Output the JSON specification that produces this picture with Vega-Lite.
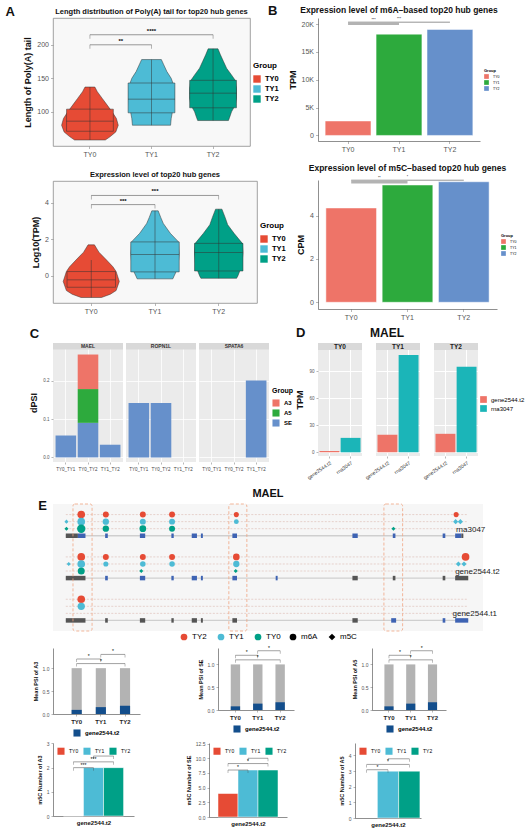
{
"$schema":"https://vega.github.io/schema/vega-lite/v6.json",
"background":"white",
"padding":{"left":5,"top":4,"right":2,"bottom":2},
"spacing":6,
"columns":1,
"align":"none",
"config":{
 "font":"Liberation Sans",
 "view":{"stroke":null},
 "title":{"fontSize":8,"fontWeight":"bold","color":"#111111","offset":3},
 "axis":{"grid":false,"labelColor":"#555555","labelFontSize":7,"titleFontSize":9,"titleFontWeight":"bold","titleColor":"#111111","tickColor":"#888888","tickSize":2.5,"tickWidth":0.6,"domainColor":"#444444","domainWidth":0.6,"labelPadding":2,"titlePadding":4,"labelOverlap":false},
 "legend":{"titleFontSize":8,"labelFontSize":8,"labelFontWeight":"bold","titleFontWeight":"bold","symbolType":"square","symbolStrokeWidth":0,"layout":{"right":{"anchor":"middle"},"bottom":{"anchor":"middle","direction":"horizontal"}}}
},
"datasets":{
 "polyA_violin":[
  {"Group":"TY0","v":137,"l":0.92,"r":1.08},{"Group":"TY0","v":130,"l":0.88,"r":1.12},{"Group":"TY0","v":120,"l":0.80,"r":1.20},{"Group":"TY0","v":110,"l":0.72,"r":1.28},{"Group":"TY0","v":100,"l":0.64,"r":1.36},{"Group":"TY0","v":90,"l":0.57,"r":1.43},{"Group":"TY0","v":80,"l":0.54,"r":1.46},{"Group":"TY0","v":70,"l":0.58,"r":1.42},{"Group":"TY0","v":63,"l":0.67,"r":1.33},{"Group":"TY0","v":58,"l":0.75,"r":1.25},
  {"Group":"TY1","v":178,"l":1.84,"r":2.16},{"Group":"TY1","v":170,"l":1.80,"r":2.20},{"Group":"TY1","v":160,"l":1.75,"r":2.25},{"Group":"TY1","v":150,"l":1.68,"r":2.32},{"Group":"TY1","v":140,"l":1.64,"r":2.36},{"Group":"TY1","v":130,"l":1.63,"r":2.37},{"Group":"TY1","v":120,"l":1.63,"r":2.37},{"Group":"TY1","v":110,"l":1.64,"r":2.36},{"Group":"TY1","v":100,"l":1.66,"r":2.34},{"Group":"TY1","v":90,"l":1.68,"r":2.32},{"Group":"TY1","v":80,"l":1.69,"r":2.31},
  {"Group":"TY2","v":194,"l":2.92,"r":3.08},{"Group":"TY2","v":185,"l":2.88,"r":3.12},{"Group":"TY2","v":175,"l":2.83,"r":3.17},{"Group":"TY2","v":165,"l":2.78,"r":3.22},{"Group":"TY2","v":155,"l":2.70,"r":3.30},{"Group":"TY2","v":147,"l":2.64,"r":3.36},{"Group":"TY2","v":135,"l":2.62,"r":3.38},{"Group":"TY2","v":120,"l":2.62,"r":3.38},{"Group":"TY2","v":110,"l":2.64,"r":3.36},{"Group":"TY2","v":100,"l":2.70,"r":3.30},{"Group":"TY2","v":92,"l":2.73,"r":3.27},{"Group":"TY2","v":87,"l":2.75,"r":3.25}
 ],
 "polyA_box":[
  {"Group":"TY0","lo":58,"q1":71,"med":86,"q3":104,"hi":137},
  {"Group":"TY1","lo":80,"q1":98.5,"med":119,"q3":143,"hi":178},
  {"Group":"TY2","lo":87,"q1":106,"med":128,"q3":147,"hi":194}
 ],
 "expr_violin":[
  {"Group":"TY0","v":1.7,"l":0.95,"r":1.05},{"Group":"TY0","v":1.3,"l":0.88,"r":1.12},{"Group":"TY0","v":0.87,"l":0.76,"r":1.24},{"Group":"TY0","v":0.5,"l":0.66,"r":1.34},{"Group":"TY0","v":0.24,"l":0.61,"r":1.39},{"Group":"TY0","v":-0.3,"l":0.56,"r":1.44},{"Group":"TY0","v":-0.8,"l":0.61,"r":1.39},{"Group":"TY0","v":-1.0,"l":0.70,"r":1.30},{"Group":"TY0","v":-1.18,"l":0.84,"r":1.16},
  {"Group":"TY1","v":3.56,"l":1.95,"r":2.05},{"Group":"TY1","v":3.2,"l":1.91,"r":2.09},{"Group":"TY1","v":2.87,"l":1.87,"r":2.13},{"Group":"TY1","v":2.33,"l":1.76,"r":2.24},{"Group":"TY1","v":1.86,"l":1.63,"r":2.37},{"Group":"TY1","v":1.2,"l":1.62,"r":2.38},{"Group":"TY1","v":0.5,"l":1.64,"r":2.36},{"Group":"TY1","v":0.22,"l":1.67,"r":2.33},{"Group":"TY1","v":0,"l":1.70,"r":2.30},{"Group":"TY1","v":-0.16,"l":1.72,"r":2.28},
  {"Group":"TY2","v":3.65,"l":2.95,"r":3.05},{"Group":"TY2","v":3.2,"l":2.90,"r":3.10},{"Group":"TY2","v":2.8,"l":2.86,"r":3.14},{"Group":"TY2","v":2.33,"l":2.76,"r":3.24},{"Group":"TY2","v":1.78,"l":2.63,"r":3.37},{"Group":"TY2","v":1.27,"l":2.62,"r":3.38},{"Group":"TY2","v":0.5,"l":2.64,"r":3.36},{"Group":"TY2","v":0.27,"l":2.67,"r":3.33},{"Group":"TY2","v":0,"l":2.70,"r":3.30},{"Group":"TY2","v":-0.13,"l":2.72,"r":3.28}
 ],
 "expr_box":[
  {"Group":"TY0","lo":-1.18,"q1":-0.62,"med":-0.22,"q3":0.24,"hi":0.87},
  {"Group":"TY1","lo":-0.16,"q1":0.22,"med":1.18,"q3":1.86,"hi":3.56},
  {"Group":"TY2","lo":-0.13,"q1":0.27,"med":1.27,"q3":1.78,"hi":3.65}
 ],
 "sig":[
  {"panel":"A1","g1":"TY0","g2":"TY1","mid":"TY0","span":1,"y":200,"label":"**"},
  {"panel":"A1","g1":"TY0","g2":"TY2","mid":"TY1","span":2,"y":215,"label":"****"},
  {"panel":"A2","g1":"TY0","g2":"TY1","mid":"TY0","span":1,"y":3.9,"label":"***"},
  {"panel":"A2","g1":"TY0","g2":"TY2","mid":"TY1","span":2,"y":4.4,"label":"***"},
  {"panel":"B1","g1":"TY0","g2":"TY1","mid":"TY0","span":1,"y":20100,"label":"***"},
  {"panel":"B1","g1":"TY0","g2":"TY2","mid":"TY1","span":2,"y":20350,"label":"***"},
  {"panel":"B2","g1":"TY0","g2":"TY1","mid":"TY0","span":1,"y":5.55,"label":"**"},
  {"panel":"B2","g1":"TY0","g2":"TY2","mid":"TY1","span":2,"y":5.63,"label":"*"},
  {"panel":"M_A3","g1":"TY0","g2":"TY1","mid":"TY0","span":1,"y":1.2,"label":"*"},
  {"panel":"M_A3","g1":"TY1","g2":"TY2","mid":"TY1","span":1,"y":1.3,"label":"*"},
  {"panel":"M_A3","g1":"TY0","g2":"TY2","mid":"TY1","span":2,"y":1.1,"label":"*"},
  {"panel":"M_SE","g1":"TY0","g2":"TY1","mid":"TY0","span":1,"y":1.2,"label":"*"},
  {"panel":"M_SE","g1":"TY1","g2":"TY2","mid":"TY1","span":1,"y":1.3,"label":"*"},
  {"panel":"M_SE","g1":"TY0","g2":"TY2","mid":"TY1","span":2,"y":1.1,"label":"*"},
  {"panel":"M_A5","g1":"TY0","g2":"TY1","mid":"TY0","span":1,"y":1.2,"label":"*"},
  {"panel":"M_A5","g1":"TY1","g2":"TY2","mid":"TY1","span":1,"y":1.3,"label":"*"},
  {"panel":"M_A5","g1":"TY0","g2":"TY2","mid":"TY1","span":2,"y":1.1,"label":"*"},
  {"panel":"N_A3","g1":"TY0","g2":"TY1","mid":"TY0","span":1,"y":2.0,"label":"***"},
  {"panel":"N_A3","g1":"TY0","g2":"TY2","mid":"TY1","span":2,"y":2.24,"label":"***"},
  {"panel":"N_A3","g1":"TY1","g2":"TY2","mid":"TY1","span":1,"y":2.48,"label":""},
  {"panel":"N_SE","g1":"TY0","g2":"TY1","mid":"TY0","span":1,"y":8.0,"label":"*"},
  {"panel":"N_SE","g1":"TY0","g2":"TY2","mid":"TY1","span":2,"y":9.1,"label":"*"},
  {"panel":"N_SE","g1":"TY1","g2":"TY2","mid":"TY1","span":1,"y":10.0,"label":""},
  {"panel":"N_A5","g1":"TY0","g2":"TY1","mid":"TY0","span":1,"y":3.09,"label":"*"},
  {"panel":"N_A5","g1":"TY0","g2":"TY2","mid":"TY1","span":2,"y":3.43,"label":"*"},
  {"panel":"N_A5","g1":"TY1","g2":"TY2","mid":"TY1","span":1,"y":3.79,"label":""}
 ],
 "strips":[{"label":"MAEL"},{"label":"ROPN1L"},{"label":"SPATA6"},{"label":"TY0"},{"label":"TY1"},{"label":"TY2"}],
 "letters":[{"panel":"E"}],
 "m6A":[{"Group":"TY0","TPM":2600},{"Group":"TY1","TPM":18200},{"Group":"TY2","TPM":19050}],
 "m5C":[{"Group":"TY0","CPM":4.35},{"Group":"TY1","CPM":5.41},{"Group":"TY2","CPM":5.56}],
 "dpsi":[
  {"Gene":"MAEL","Comparison":"TY0_TY1","Group":"SE","dPSI":0.057},
  {"Gene":"MAEL","Comparison":"TY0_TY2","Group":"SE","dPSI":0.09},
  {"Gene":"MAEL","Comparison":"TY0_TY2","Group":"A5","dPSI":0.088},
  {"Gene":"MAEL","Comparison":"TY0_TY2","Group":"A3","dPSI":0.09},
  {"Gene":"MAEL","Comparison":"TY1_TY2","Group":"SE","dPSI":0.033},
  {"Gene":"ROPN1L","Comparison":"TY0_TY1","Group":"SE","dPSI":0.142},
  {"Gene":"ROPN1L","Comparison":"TY0_TY2","Group":"SE","dPSI":0.142},
  {"Gene":"SPATA6","Comparison":"TY1_TY2","Group":"SE","dPSI":0.2}
 ],
 "mael_tpm":[
  {"Group":"TY0","Transcript":"gene2544.t2","TPM":1.5},{"Group":"TY0","Transcript":"rna3047","TPM":16},
  {"Group":"TY1","Transcript":"gene2544.t2","TPM":19.5},{"Group":"TY1","Transcript":"rna3047","TPM":108},
  {"Group":"TY2","Transcript":"gene2544.t2","TPM":20.5},{"Group":"TY2","Transcript":"rna3047","TPM":95}
 ],
 "ebox":[{"start":2030,"end":3970},{"start":17870,"end":19700},{"start":33630,"end":35530}],
 "eline":[
  {"row":"rna3047 TY2","start":1300,"end":42200,"kind":"site"},{"row":"rna3047 TY1","start":1300,"end":42200,"kind":"site"},{"row":"rna3047 TY0","start":1300,"end":42200,"kind":"site"},
  {"row":"gene2544.t2 TY2","start":1300,"end":42200,"kind":"site"},{"row":"gene2544.t2 TY1","start":1300,"end":42200,"kind":"site"},{"row":"gene2544.t2 TY0","start":1300,"end":42200,"kind":"site"},
  {"row":"gene2544.t1 TY2","start":1300,"end":42200,"kind":"site"},{"row":"gene2544.t1 TY1","start":1300,"end":42200,"kind":"site"},{"row":"gene2544.t1 TY0","start":1300,"end":42200,"kind":"site"},
  {"row":"rna3047","start":1300,"end":41700,"kind":"intron"},{"row":"gene2544.t2","start":1300,"end":42200,"kind":"intron"},{"row":"gene2544.t1","start":1300,"end":42200,"kind":"intron"}
 ],
 "exon":[
  {"row":"rna3047","start":1300,"end":2530,"type":"UTR"},{"row":"rna3047","start":2530,"end":3300,"type":"CDS"},{"row":"rna3047","start":5300,"end":5570,"type":"CDS"},{"row":"rna3047","start":8830,"end":9370,"type":"CDS"},{"row":"rna3047","start":12030,"end":12270,"type":"CDS"},{"row":"rna3047","start":14100,"end":14630,"type":"CDS"},{"row":"rna3047","start":15030,"end":15230,"type":"CDS"},{"row":"rna3047","start":18230,"end":18700,"type":"CDS"},{"row":"rna3047","start":30430,"end":30970,"type":"CDS"},{"row":"rna3047","start":34530,"end":34800,"type":"CDS"},{"row":"rna3047","start":39600,"end":39870,"type":"CDS"},{"row":"rna3047","start":40870,"end":41500,"type":"CDS"},{"row":"rna3047","start":41500,"end":41700,"type":"UTR"},
  {"row":"gene2544.t2","start":1300,"end":3300,"type":"UTR"},{"row":"gene2544.t2","start":5300,"end":5570,"type":"CDS"},{"row":"gene2544.t2","start":8830,"end":9370,"type":"CDS"},{"row":"gene2544.t2","start":12030,"end":12270,"type":"CDS"},{"row":"gene2544.t2","start":14100,"end":14630,"type":"CDS"},{"row":"gene2544.t2","start":15030,"end":15230,"type":"CDS"},{"row":"gene2544.t2","start":18230,"end":18700,"type":"CDS"},{"row":"gene2544.t2","start":22630,"end":22830,"type":"CDS"},{"row":"gene2544.t2","start":30430,"end":30970,"type":"UTR"},{"row":"gene2544.t2","start":34530,"end":34800,"type":"UTR"},{"row":"gene2544.t2","start":39600,"end":39870,"type":"UTR"},{"row":"gene2544.t2","start":40870,"end":42200,"type":"UTR"},
  {"row":"gene2544.t1","start":1300,"end":3300,"type":"UTR"},{"row":"gene2544.t1","start":5300,"end":5570,"type":"UTR"},{"row":"gene2544.t1","start":8830,"end":9370,"type":"UTR"},{"row":"gene2544.t1","start":12030,"end":12270,"type":"UTR"},{"row":"gene2544.t1","start":14100,"end":14630,"type":"UTR"},{"row":"gene2544.t1","start":15030,"end":15230,"type":"UTR"},{"row":"gene2544.t1","start":18230,"end":18700,"type":"UTR"},{"row":"gene2544.t1","start":30430,"end":30970,"type":"UTR"},{"row":"gene2544.t1","start":34370,"end":34870,"type":"CDS"},{"row":"gene2544.t1","start":39600,"end":39870,"type":"CDS"},{"row":"gene2544.t1","start":40870,"end":42200,"type":"CDS"}
 ],
 "sites":[
  {"row":"rna3047 TY2","pos":2870,"grp":"TY2","mod":"m6A","n":3},{"row":"rna3047 TY2","pos":5370,"grp":"TY2","mod":"m6A","n":2},{"row":"rna3047 TY2","pos":9130,"grp":"TY2","mod":"m6A","n":2},{"row":"rna3047 TY2","pos":12100,"grp":"TY2","mod":"m6A","n":2},{"row":"rna3047 TY2","pos":18630,"grp":"TY2","mod":"m6A","n":1.6},{"row":"rna3047 TY2","pos":40970,"grp":"TY2","mod":"m6A","n":1.6},
  {"row":"rna3047 TY1","pos":1370,"grp":"TY1","mod":"m5C","n":1.2},{"row":"rna3047 TY1","pos":2870,"grp":"TY1","mod":"m6A","n":3},{"row":"rna3047 TY1","pos":5370,"grp":"TY1","mod":"m6A","n":2.2},{"row":"rna3047 TY1","pos":9130,"grp":"TY1","mod":"m6A","n":2},{"row":"rna3047 TY1","pos":12100,"grp":"TY1","mod":"m6A","n":2},{"row":"rna3047 TY1","pos":18630,"grp":"TY1","mod":"m6A","n":1.5},{"row":"rna3047 TY1","pos":40920,"grp":"TY1","mod":"m5C","n":1.6},{"row":"rna3047 TY1","pos":41400,"grp":"TY1","mod":"m5C","n":1.6},
  {"row":"rna3047 TY0","pos":1370,"grp":"TY0","mod":"m5C","n":1.2},{"row":"rna3047 TY0","pos":2870,"grp":"TY0","mod":"m6A","n":3.5},{"row":"rna3047 TY0","pos":5370,"grp":"TY0","mod":"m6A","n":2.2},{"row":"rna3047 TY0","pos":9130,"grp":"TY0","mod":"m6A","n":2.4},{"row":"rna3047 TY0","pos":12100,"grp":"TY0","mod":"m6A","n":2},{"row":"rna3047 TY0","pos":34600,"grp":"TY0","mod":"m5C","n":1.2},
  {"row":"gene2544.t2 TY2","pos":2870,"grp":"TY2","mod":"m6A","n":3},{"row":"gene2544.t2 TY2","pos":5370,"grp":"TY2","mod":"m6A","n":2},{"row":"gene2544.t2 TY2","pos":9130,"grp":"TY2","mod":"m6A","n":2},{"row":"gene2544.t2 TY2","pos":12100,"grp":"TY2","mod":"m6A","n":2},{"row":"gene2544.t2 TY2","pos":18630,"grp":"TY2","mod":"m6A","n":2.4},{"row":"gene2544.t2 TY2","pos":41930,"grp":"TY2","mod":"m6A","n":3},
  {"row":"gene2544.t2 TY1","pos":1600,"grp":"TY1","mod":"m5C","n":1.2},{"row":"gene2544.t2 TY1","pos":2870,"grp":"TY1","mod":"m6A","n":3},{"row":"gene2544.t2 TY1","pos":5370,"grp":"TY1","mod":"m6A","n":1.6},{"row":"gene2544.t2 TY1","pos":9130,"grp":"TY1","mod":"m6A","n":1.8},{"row":"gene2544.t2 TY1","pos":12100,"grp":"TY1","mod":"m6A","n":1.8},{"row":"gene2544.t2 TY1","pos":18630,"grp":"TY1","mod":"m6A","n":2.2},{"row":"gene2544.t2 TY1","pos":41200,"grp":"TY1","mod":"m5C","n":1.6},{"row":"gene2544.t2 TY1","pos":41770,"grp":"TY1","mod":"m5C","n":1.6},
  {"row":"gene2544.t2 TY0","pos":2870,"grp":"TY0","mod":"m6A","n":2.6},{"row":"gene2544.t2 TY0","pos":8970,"grp":"TY0","mod":"m5C","n":1.2},{"row":"gene2544.t2 TY0","pos":18570,"grp":"TY0","mod":"m5C","n":1.2},
  {"row":"gene2544.t1 TY2","pos":2870,"grp":"TY2","mod":"m6A","n":3},
  {"row":"gene2544.t1 TY1","pos":2870,"grp":"TY1","mod":"m6A","n":2.8}
 ],
 "elabel":[{"row":"rna3047","pos":40950},{"row":"gene2544.t2","pos":40870},{"row":"gene2544.t1","pos":40600}],
 "psi":[
  {"Event":"A3","Group":"TY0","Transcript":"gene2544.t2","PSI":0.09},{"Event":"A3","Group":"TY1","Transcript":"gene2544.t2","PSI":0.15},{"Event":"A3","Group":"TY2","Transcript":"gene2544.t2","PSI":0.18},
  {"Event":"SE","Group":"TY0","Transcript":"gene2544.t2","PSI":0.08},{"Event":"SE","Group":"TY1","Transcript":"gene2544.t2","PSI":0.14},{"Event":"SE","Group":"TY2","Transcript":"gene2544.t2","PSI":0.17},
  {"Event":"A5","Group":"TY0","Transcript":"gene2544.t2","PSI":0.08},{"Event":"A5","Group":"TY1","Transcript":"gene2544.t2","PSI":0.14},{"Event":"A5","Group":"TY2","Transcript":"gene2544.t2","PSI":0.17}
 ],
 "m5cnum":[
  {"Event":"A3","Group":"TY0","Number":0},{"Event":"A3","Group":"TY1","Number":2},{"Event":"A3","Group":"TY2","Number":2},
  {"Event":"SE","Group":"TY0","Number":4},{"Event":"SE","Group":"TY1","Number":8},{"Event":"SE","Group":"TY2","Number":8},
  {"Event":"A5","Group":"TY1","Number":3},{"Event":"A5","Group":"TY2","Number":3}
 ]
},
"resolve":{"scale":{"color":"independent","shape":"independent","size":"independent"}},
"concat":[
 {"hconcat":[
  {"title":{"text":"A","anchor":"start","fontSize":13,"offset":-12,"dx":-18},
   "spacing":12,
   "resolve":{"scale":{"color":"independent"}},
   "vconcat":[
    {"width":197,"height":128,
     "title":{"text":"Length distribution of Poly(A) tail for top20 hub genes","fontSize":7.5},
     "view":{"fill":"#f8f8f8","stroke":"#8c8c8c","strokeWidth":0.8},
     "layer":[
      {"data":{"name":"polyA_violin"},
       "mark":{"type":"area","orient":"horizontal","stroke":"#333333","strokeWidth":0.5},
       "encoding":{
        "y":{"field":"v","type":"quantitative","scale":{"domain":[49,240],"nice":false,"zero":false},"axis":{"values":[100,150,200],"title":"Length of Poly(A) tail","domain":false}},
        "x":{"field":"l","type":"quantitative","stack":null,"scale":{"domain":[0.4,3.6],"nice":false,"zero":false},"axis":null},
        "x2":{"field":"r"},
        "color":{"field":"Group","type":"nominal","scale":{"domain":["TY0","TY1","TY2"],"range":["#E64B35","#4DBBD5","#00A087"]},"legend":{"title":"Group","symbolSize":55,"labelFontSize":7.5,"offset":3}}
       }},
      {"data":{"name":"polyA_box"},
       "encoding":{"x":{"field":"Group","type":"nominal","title":null,"scale":{"domain":["TY0","TY1","TY2"],"paddingInner":0,"paddingOuter":0.1},"axis":{"title":null,"labelAngle":0,"domain":false}}},
       "layer":[
        {"mark":{"type":"bar","width":{"band":0.76},"stroke":"#333333","strokeWidth":0.5},
         "encoding":{"y":{"field":"q1","type":"quantitative","title":"Length of Poly(A) tail"},"y2":{"field":"q3"},"color":{"field":"Group","type":"nominal","scale":{"domain":["TY0","TY1","TY2"],"range":["#E64B35","#4DBBD5","#00A087"]},"legend":{"title":"Group","symbolSize":55,"labelFontSize":7.5,"offset":3}}}},
        {"mark":{"type":"rule","color":"#333333","strokeWidth":0.5},
         "encoding":{"y":{"field":"lo","type":"quantitative","title":"Length of Poly(A) tail"},"y2":{"field":"hi"}}},
        {"mark":{"type":"tick","orient":"horizontal","size":47,"thickness":0.8,"color":"#333333"},
         "encoding":{"y":{"field":"med","type":"quantitative","title":"Length of Poly(A) tail"}}},
        {"data":{"name":"sig"},"transform":[{"filter":"datum.panel == 'A1'"}],"mark":{"type":"rule","color":"#555555","strokeWidth":0.6},
         "encoding":{"x":{"field":"g1","type":"nominal","title":null},"x2":{"field":"g2"},"y":{"field":"y","type":"quantitative","title":"Length of Poly(A) tail"}}},
        {"data":{"name":"sig"},"transform":[{"filter":"datum.panel == 'A1'"},{"fold":["g1","g2"],"as":["end","gx"]}],"mark":{"type":"tick","orient":"vertical","size":4,"yOffset":2,"thickness":0.6,"color":"#555555"},
         "encoding":{"x":{"field":"gx","type":"nominal","title":null},"y":{"field":"y","type":"quantitative","title":"Length of Poly(A) tail"}}},
        {"data":{"name":"sig"},"transform":[{"filter":"datum.panel == 'A1' && datum.span == 1"}],"mark":{"type":"text","baseline":"bottom","dy":-1,"fontSize":6,"fontWeight":"bold"},
         "encoding":{"x":{"field":"mid","type":"nominal","bandPosition":1,"title":null},"y":{"field":"y","type":"quantitative","title":"Length of Poly(A) tail"},"text":{"field":"label"}}},
        {"data":{"name":"sig"},"transform":[{"filter":"datum.panel == 'A1' && datum.span == 2"}],"mark":{"type":"text","baseline":"bottom","dy":-1,"fontSize":6,"fontWeight":"bold"},
         "encoding":{"x":{"field":"mid","type":"nominal","title":null},"y":{"field":"y","type":"quantitative","title":"Length of Poly(A) tail"},"text":{"field":"label"}}}
       ]}
     ],
     "resolve":{"scale":{"x":"independent"}}
    },
    {"width":204,"height":122,
     "title":{"text":"Expression level of top20 hub genes","fontSize":7.5},
     "view":{"fill":"#f8f8f8","stroke":"#8c8c8c","strokeWidth":0.8},
     "layer":[
      {"data":{"name":"expr_violin"},
       "mark":{"type":"area","orient":"horizontal","stroke":"#333333","strokeWidth":0.5},
       "encoding":{
        "y":{"field":"v","type":"quantitative","scale":{"domain":[-1.48,5.19],"nice":false,"zero":false},"axis":{"values":[0,2,4],"title":"Log10(TPM)","domain":false}},
        "x":{"field":"l","type":"quantitative","stack":null,"scale":{"domain":[0.4,3.6],"nice":false,"zero":false},"axis":null},
        "x2":{"field":"r"},
        "color":{"field":"Group","type":"nominal","scale":{"domain":["TY0","TY1","TY2"],"range":["#E64B35","#4DBBD5","#00A087"]},"legend":{"title":"Group","symbolSize":55,"labelFontSize":7.5,"offset":3}}
       }},
      {"data":{"name":"expr_box"},
       "encoding":{"x":{"field":"Group","type":"nominal","title":null,"scale":{"domain":["TY0","TY1","TY2"],"paddingInner":0,"paddingOuter":0.1},"axis":{"title":null,"labelAngle":0,"domain":false}}},
       "layer":[
        {"mark":{"type":"bar","width":{"band":0.76},"stroke":"#333333","strokeWidth":0.5},
         "encoding":{"y":{"field":"q1","type":"quantitative","title":"Log10(TPM)"},"y2":{"field":"q3"},"color":{"field":"Group","type":"nominal","scale":{"domain":["TY0","TY1","TY2"],"range":["#E64B35","#4DBBD5","#00A087"]},"legend":{"title":"Group","symbolSize":55,"labelFontSize":7.5,"offset":3}}}},
        {"mark":{"type":"rule","color":"#333333","strokeWidth":0.5},
         "encoding":{"y":{"field":"lo","type":"quantitative","title":"Log10(TPM)"},"y2":{"field":"hi"}}},
        {"mark":{"type":"tick","orient":"horizontal","size":48,"thickness":0.8,"color":"#333333"},
         "encoding":{"y":{"field":"med","type":"quantitative","title":"Log10(TPM)"}}},
        {"data":{"name":"sig"},"transform":[{"filter":"datum.panel == 'A2'"}],"mark":{"type":"rule","color":"#555555","strokeWidth":0.6},
         "encoding":{"x":{"field":"g1","type":"nominal","title":null},"x2":{"field":"g2"},"y":{"field":"y","type":"quantitative","title":"Log10(TPM)"}}},
        {"data":{"name":"sig"},"transform":[{"filter":"datum.panel == 'A2'"},{"fold":["g1","g2"],"as":["end","gx"]}],"mark":{"type":"tick","orient":"vertical","size":4,"yOffset":2,"thickness":0.6,"color":"#555555"},
         "encoding":{"x":{"field":"gx","type":"nominal","title":null},"y":{"field":"y","type":"quantitative","title":"Log10(TPM)"}}},
        {"data":{"name":"sig"},"transform":[{"filter":"datum.panel == 'A2' && datum.span == 1"}],"mark":{"type":"text","baseline":"bottom","dy":-1,"fontSize":6,"fontWeight":"bold"},
         "encoding":{"x":{"field":"mid","type":"nominal","bandPosition":1,"title":null},"y":{"field":"y","type":"quantitative","title":"Log10(TPM)"},"text":{"field":"label"}}},
        {"data":{"name":"sig"},"transform":[{"filter":"datum.panel == 'A2' && datum.span == 2"}],"mark":{"type":"text","baseline":"bottom","dy":-1,"fontSize":6,"fontWeight":"bold"},
         "encoding":{"x":{"field":"mid","type":"nominal","title":null},"y":{"field":"y","type":"quantitative","title":"Log10(TPM)"},"text":{"field":"label"}}}
       ]}
     ],
     "resolve":{"scale":{"x":"independent"}}
    }
   ]},
  {"title":{"text":"B","anchor":"start","fontSize":13,"offset":-12,"dx":-20},
   "spacing":10,
   "resolve":{"scale":{"color":"independent"}},
   "vconcat":[
    {"width":162,"height":123,
     "title":{"text":"Expression level of m6A\u2013based top20 hub genes","fontSize":8.5},
     "encoding":{"x":{"field":"Group","type":"nominal","title":null,"scale":{"domain":["TY0","TY1","TY2"],"paddingInner":0,"paddingOuter":0.09},"axis":{"title":null,"labelAngle":0}}},
     "layer":[
      {"data":{"name":"m6A"},"mark":{"type":"bar","width":{"band":0.9},"stroke":"white","strokeWidth":0.5},
       "encoding":{"y":{"field":"TPM","type":"quantitative","scale":{"domain":[-1000,21100],"nice":false},"axis":{"values":[0,5000,10000,15000,20000],"labelExpr":"datum.value == 0 ? '0' : (datum.value/1000) + 'K'","title":"TPM"}},"y2":{"datum":0},
        "color":{"field":"Group","type":"nominal","scale":{"domain":["TY0","TY1","TY2"],"range":["#EE7468","#2DAA3D","#6690CB"]},"legend":{"title":"Group","titleFontSize":4,"labelFontSize":3.5,"labelFontWeight":"normal","symbolSize":22,"offset":4,"rowPadding":1,"titlePadding":1}}}},
      {"data":{"name":"sig"},"transform":[{"filter":"datum.panel == 'B1' && datum.span == 2"}],"mark":{"type":"rule","color":"#666666","strokeWidth":0.7},
       "encoding":{"x":{"field":"g1","type":"nominal","title":null},"x2":{"field":"g2"},"y":{"field":"y","type":"quantitative","axis":{"values":[0,5000,10000,15000,20000],"labelExpr":"datum.value == 0 ? '0' : (datum.value/1000) + 'K'","title":"TPM"}}}},
      {"data":{"name":"sig"},"transform":[{"filter":"datum.panel == 'B1' && datum.span == 1"}],"mark":{"type":"rule","color":"#b3b3b3","strokeWidth":3},
       "encoding":{"x":{"field":"g1","type":"nominal","title":null},"x2":{"field":"g2"},"y":{"field":"y","type":"quantitative","axis":{"values":[0,5000,10000,15000,20000],"labelExpr":"datum.value == 0 ? '0' : (datum.value/1000) + 'K'","title":"TPM"}}}},
      {"data":{"name":"sig"},"transform":[{"filter":"datum.panel == 'B1' && datum.span == 1"}],"mark":{"type":"text","baseline":"bottom","dy":-2,"fontSize":3.5},
       "encoding":{"x":{"field":"mid","type":"nominal","bandPosition":1,"title":null},"y":{"field":"y","type":"quantitative","axis":{"values":[0,5000,10000,15000,20000],"labelExpr":"datum.value == 0 ? '0' : (datum.value/1000) + 'K'","title":"TPM"}},"text":{"field":"label"}}},
      {"data":{"name":"sig"},"transform":[{"filter":"datum.panel == 'B1' && datum.span == 2"}],"mark":{"type":"text","baseline":"bottom","dy":-1,"fontSize":3.5},
       "encoding":{"x":{"field":"mid","type":"nominal","title":null},"y":{"field":"y","type":"quantitative","axis":{"values":[0,5000,10000,15000,20000],"labelExpr":"datum.value == 0 ? '0' : (datum.value/1000) + 'K'","title":"TPM"}},"text":{"field":"label"}}}
     ]},
    {"width":179,"height":129,
     "title":{"text":"Expression level of m5C\u2013based top20 hub genes","fontSize":8.5},
     "encoding":{"x":{"field":"Group","type":"nominal","title":null,"scale":{"domain":["TY0","TY1","TY2"],"paddingInner":0,"paddingOuter":0.09},"axis":{"title":null,"labelAngle":0}}},
     "layer":[
      {"data":{"name":"m5C"},"mark":{"type":"bar","width":{"band":0.9},"stroke":"white","strokeWidth":0.5},
       "encoding":{"y":{"field":"CPM","type":"quantitative","scale":{"domain":[-0.31,5.64],"nice":false},"axis":{"values":[0,2,4],"title":"CPM"}},"y2":{"datum":0},
        "color":{"field":"Group","type":"nominal","scale":{"domain":["TY0","TY1","TY2"],"range":["#EE7468","#2DAA3D","#6690CB"]},"legend":{"title":"Group","titleFontSize":4,"labelFontSize":3.5,"labelFontWeight":"normal","symbolSize":22,"offset":4,"rowPadding":1,"titlePadding":1}}}},
      {"data":{"name":"sig"},"transform":[{"filter":"datum.panel == 'B2' && datum.span == 2"}],"mark":{"type":"rule","color":"#666666","strokeWidth":0.7},
       "encoding":{"x":{"field":"g1","type":"nominal","title":null},"x2":{"field":"g2"},"y":{"field":"y","type":"quantitative","axis":{"values":[0,2,4],"title":"CPM"}}}},
      {"data":{"name":"sig"},"transform":[{"filter":"datum.panel == 'B2' && datum.span == 1"}],"mark":{"type":"rule","color":"#b3b3b3","strokeWidth":3},
       "encoding":{"x":{"field":"g1","type":"nominal","title":null},"x2":{"field":"g2"},"y":{"field":"y","type":"quantitative","axis":{"values":[0,2,4],"title":"CPM"}}}},
      {"data":{"name":"sig"},"transform":[{"filter":"datum.panel == 'B2' && datum.span == 1"}],"mark":{"type":"text","baseline":"bottom","dy":-2,"fontSize":3.5},
       "encoding":{"x":{"field":"mid","type":"nominal","bandPosition":1,"title":null},"y":{"field":"y","type":"quantitative","axis":{"values":[0,2,4],"title":"CPM"}},"text":{"field":"label"}}},
      {"data":{"name":"sig"},"transform":[{"filter":"datum.panel == 'B2' && datum.span == 2"}],"mark":{"type":"text","baseline":"bottom","dy":-1,"fontSize":3.5},
       "encoding":{"x":{"field":"mid","type":"nominal","title":null},"y":{"field":"y","type":"quantitative","axis":{"values":[0,2,4],"title":"CPM"}},"text":{"field":"label"}}}
     ]}
   ]}
 ],"spacing":-19,"resolve":{"scale":{"color":"independent"}}},
 {"hconcat":[
  {"title":{"text":"C","anchor":"start","fontSize":13,"offset":2},
   "spacing":3,
   "hconcat":[
    {"width":70,"height":119,
     "view":{"fill":"#ebebeb","stroke":null},
     "layer":[
      {"data":{"name":"dpsi"},"transform":[{"filter":"datum.Gene == 'MAEL'"}],
       "mark":{"type":"bar","width":{"band":0.93}},
       "encoding":{
        "x":{"field":"Comparison","type":"nominal","scale":{"domain":["TY0_TY1","TY0_TY2","TY1_TY2"],"paddingInner":0,"paddingOuter":0.08},"axis":{"title":null,"labelAngle":0,"labelFontSize":4.5,"labelColor":"#444444","grid":true,"gridColor":"#ffffff","gridWidth":0.8,"domain":false,"tickSize":2}},
        "y":{"field":"dPSI","type":"quantitative","stack":"zero","scale":{"domain":[-0.012,0.298],"nice":false},"axis":{"values":[0,0.1,0.2],"format":".1f","title":"dPSI","labelFontSize":4.5,"grid":true,"gridColor":"#ffffff","gridWidth":0.8,"domain":false,"tickSize":2}},
        "color":{"field":"Group","type":"nominal","scale":{"domain":["A3","A5","SE"],"range":["#EE7468","#2DAA3D","#6690CB"]},"legend":{"title":"Group","titleFontSize":7,"labelFontSize":6,"symbolSize":50,"offset":3}},
        "order":{"field":"Group","sort":"descending"}
       }},
      {"data":{"name":"strips"},"transform":[{"filter":"datum.label == 'MAEL'"}],"mark":{"type":"rect","color":"#d9d9d9"},
       "encoding":{"y":{"datum":0.281,"type":"quantitative","axis":{"values":[0,0.1,0.2],"format":".1f","title":"dPSI","labelFontSize":4.5,"grid":true,"gridColor":"#ffffff","gridWidth":0.8,"domain":false,"tickSize":2}},"y2":{"datum":0.298}}},
      {"data":{"name":"strips"},"transform":[{"filter":"datum.label == 'MAEL'"}],"mark":{"type":"text","fontSize":5,"fontWeight":"bold","color":"#333333"},
       "encoding":{"y":{"datum":0.2895,"type":"quantitative","axis":{"values":[0,0.1,0.2],"format":".1f","title":"dPSI","labelFontSize":4.5,"grid":true,"gridColor":"#ffffff","gridWidth":0.8,"domain":false,"tickSize":2}},"text":{"field":"label"}}}
     ]},
    {"width":70,"height":119,
     "view":{"fill":"#ebebeb","stroke":null},
     "layer":[
      {"data":{"name":"dpsi"},"transform":[{"filter":"datum.Gene == 'ROPN1L'"}],
       "mark":{"type":"bar","width":{"band":0.93}},
       "encoding":{
        "x":{"field":"Comparison","type":"nominal","scale":{"domain":["TY0_TY1","TY0_TY2","TY1_TY2"],"paddingInner":0,"paddingOuter":0.08},"axis":{"title":null,"labelAngle":0,"labelFontSize":4.5,"labelColor":"#444444","grid":true,"gridColor":"#ffffff","gridWidth":0.8,"domain":false,"tickSize":2}},
        "y":{"field":"dPSI","type":"quantitative","stack":"zero","scale":{"domain":[-0.012,0.298],"nice":false},"axis":{"values":[0,0.1,0.2],"labels":false,"ticks":false,"title":null,"grid":true,"gridColor":"#ffffff","gridWidth":0.8,"domain":false}},
        "color":{"field":"Group","type":"nominal","scale":{"domain":["A3","A5","SE"],"range":["#EE7468","#2DAA3D","#6690CB"]},"legend":{"title":"Group","titleFontSize":7,"labelFontSize":6,"symbolSize":50,"offset":3}},
        "order":{"field":"Group","sort":"descending"}
       }},
      {"data":{"name":"strips"},"transform":[{"filter":"datum.label == 'ROPN1L'"}],"mark":{"type":"rect","color":"#d9d9d9"},
       "encoding":{"y":{"datum":0.281,"type":"quantitative","axis":{"values":[0,0.1,0.2],"labels":false,"ticks":false,"title":null,"grid":true,"gridColor":"#ffffff","gridWidth":0.8,"domain":false}},"y2":{"datum":0.298}}},
      {"data":{"name":"strips"},"transform":[{"filter":"datum.label == 'ROPN1L'"}],"mark":{"type":"text","fontSize":5,"fontWeight":"bold","color":"#333333"},
       "encoding":{"y":{"datum":0.2895,"type":"quantitative","axis":{"values":[0,0.1,0.2],"labels":false,"ticks":false,"title":null,"grid":true,"gridColor":"#ffffff","gridWidth":0.8,"domain":false}},"text":{"field":"label"}}}
     ]},
    {"width":70,"height":119,
     "view":{"fill":"#ebebeb","stroke":null},
     "layer":[
      {"data":{"name":"dpsi"},"transform":[{"filter":"datum.Gene == 'SPATA6'"}],
       "mark":{"type":"bar","width":{"band":0.93}},
       "encoding":{
        "x":{"field":"Comparison","type":"nominal","scale":{"domain":["TY0_TY1","TY0_TY2","TY1_TY2"],"paddingInner":0,"paddingOuter":0.08},"axis":{"title":null,"labelAngle":0,"labelFontSize":4.5,"labelColor":"#444444","grid":true,"gridColor":"#ffffff","gridWidth":0.8,"domain":false,"tickSize":2}},
        "y":{"field":"dPSI","type":"quantitative","stack":"zero","scale":{"domain":[-0.012,0.298],"nice":false},"axis":{"values":[0,0.1,0.2],"labels":false,"ticks":false,"title":null,"grid":true,"gridColor":"#ffffff","gridWidth":0.8,"domain":false}},
        "color":{"field":"Group","type":"nominal","scale":{"domain":["A3","A5","SE"],"range":["#EE7468","#2DAA3D","#6690CB"]},"legend":{"title":"Group","titleFontSize":7,"labelFontSize":6,"symbolSize":50,"offset":3}},
        "order":{"field":"Group","sort":"descending"}
       }},
      {"data":{"name":"strips"},"transform":[{"filter":"datum.label == 'SPATA6'"}],"mark":{"type":"rect","color":"#d9d9d9"},
       "encoding":{"y":{"datum":0.281,"type":"quantitative","axis":{"values":[0,0.1,0.2],"labels":false,"ticks":false,"title":null,"grid":true,"gridColor":"#ffffff","gridWidth":0.8,"domain":false}},"y2":{"datum":0.298}}},
      {"data":{"name":"strips"},"transform":[{"filter":"datum.label == 'SPATA6'"}],"mark":{"type":"text","fontSize":5,"fontWeight":"bold","color":"#333333"},
       "encoding":{"y":{"datum":0.2895,"type":"quantitative","axis":{"values":[0,0.1,0.2],"labels":false,"ticks":false,"title":null,"grid":true,"gridColor":"#ffffff","gridWidth":0.8,"domain":false}},"text":{"field":"label"}}}
     ]}
   ]},
  {"title":{"text":"D","anchor":"start","fontSize":13,"offset":-13},
   "vconcat":[
    {"title":{"text":"MAEL","fontSize":12,"anchor":"middle"},
     "spacing":2,
     "hconcat":[
      {"width":44,"height":113,
       "view":{"fill":"#ebebeb","stroke":null},
       "layer":[
        {"data":{"name":"mael_tpm"},"transform":[{"filter":"datum.Group == 'TY0'"}],"mark":{"type":"bar","width":{"band":0.94}},
         "encoding":{
          "x":{"field":"Transcript","type":"nominal","scale":{"domain":["gene2544.t2","rna3047"],"paddingInner":0,"paddingOuter":0.04},"axis":{"title":null,"labelAngle":-35,"labelFontSize":5,"labelColor":"#333333","grid":true,"gridColor":"#ffffff","domain":false,"tickSize":2}},
          "y":{"field":"TPM","type":"quantitative","scale":{"domain":[-4.1,121.2],"nice":false},"axis":{"values":[0,30,60,90],"title":"TPM","labelFontSize":4.5,"grid":true,"gridColor":"#ffffff","domain":false,"tickSize":2}},
          "y2":{"datum":0},
          "color":{"field":"Transcript","type":"nominal","scale":{"domain":["gene2544.t2","rna3047"],"range":["#EE7468","#1BB5B8"]},"legend":{"title":null,"labelFontSize":6,"labelFontWeight":"normal","symbolSize":45,"offset":2}}}},
        {"data":{"name":"strips"},"transform":[{"filter":"datum.label == 'TY0'"}],"mark":{"type":"rect","color":"#d9d9d9"},
         "encoding":{"y":{"datum":113.4,"type":"quantitative","axis":{"values":[0,30,60,90],"title":"TPM","labelFontSize":4.5,"grid":true,"gridColor":"#ffffff","domain":false,"tickSize":2}},"y2":{"datum":121.2}}},
        {"data":{"name":"strips"},"transform":[{"filter":"datum.label == 'TY0'"}],"mark":{"type":"text","fontSize":6.5,"fontWeight":"bold","color":"#222222"},
         "encoding":{"y":{"datum":117.3,"type":"quantitative","axis":{"values":[0,30,60,90],"title":"TPM","labelFontSize":4.5,"grid":true,"gridColor":"#ffffff","domain":false,"tickSize":2}},"text":{"field":"label"}}}
       ]},
      {"width":44,"height":113,
       "view":{"fill":"#ebebeb","stroke":null},
       "layer":[
        {"data":{"name":"mael_tpm"},"transform":[{"filter":"datum.Group == 'TY1'"}],"mark":{"type":"bar","width":{"band":0.94}},
         "encoding":{
          "x":{"field":"Transcript","type":"nominal","scale":{"domain":["gene2544.t2","rna3047"],"paddingInner":0,"paddingOuter":0.04},"axis":{"title":null,"labelAngle":-35,"labelFontSize":5,"labelColor":"#333333","grid":true,"gridColor":"#ffffff","domain":false,"tickSize":2}},
          "y":{"field":"TPM","type":"quantitative","scale":{"domain":[-4.1,121.2],"nice":false},"axis":{"values":[0,30,60,90],"labels":false,"ticks":false,"title":null,"grid":true,"gridColor":"#ffffff","domain":false}},
          "y2":{"datum":0},
          "color":{"field":"Transcript","type":"nominal","scale":{"domain":["gene2544.t2","rna3047"],"range":["#EE7468","#1BB5B8"]},"legend":{"title":null,"labelFontSize":6,"labelFontWeight":"normal","symbolSize":45,"offset":2}}}},
        {"data":{"name":"strips"},"transform":[{"filter":"datum.label == 'TY1'"}],"mark":{"type":"rect","color":"#d9d9d9"},
         "encoding":{"y":{"datum":113.4,"type":"quantitative","axis":{"values":[0,30,60,90],"labels":false,"ticks":false,"title":null,"grid":true,"gridColor":"#ffffff","domain":false}},"y2":{"datum":121.2}}},
        {"data":{"name":"strips"},"transform":[{"filter":"datum.label == 'TY1'"}],"mark":{"type":"text","fontSize":6.5,"fontWeight":"bold","color":"#222222"},
         "encoding":{"y":{"datum":117.3,"type":"quantitative","axis":{"values":[0,30,60,90],"labels":false,"ticks":false,"title":null,"grid":true,"gridColor":"#ffffff","domain":false}},"text":{"field":"label"}}}
       ]},
      {"width":44,"height":113,
       "view":{"fill":"#ebebeb","stroke":null},
       "layer":[
        {"data":{"name":"mael_tpm"},"transform":[{"filter":"datum.Group == 'TY2'"}],"mark":{"type":"bar","width":{"band":0.94}},
         "encoding":{
          "x":{"field":"Transcript","type":"nominal","scale":{"domain":["gene2544.t2","rna3047"],"paddingInner":0,"paddingOuter":0.04},"axis":{"title":null,"labelAngle":-35,"labelFontSize":5,"labelColor":"#333333","grid":true,"gridColor":"#ffffff","domain":false,"tickSize":2}},
          "y":{"field":"TPM","type":"quantitative","scale":{"domain":[-4.1,121.2],"nice":false},"axis":{"values":[0,30,60,90],"labels":false,"ticks":false,"title":null,"grid":true,"gridColor":"#ffffff","domain":false}},
          "y2":{"datum":0},
          "color":{"field":"Transcript","type":"nominal","scale":{"domain":["gene2544.t2","rna3047"],"range":["#EE7468","#1BB5B8"]},"legend":{"title":null,"labelFontSize":6,"labelFontWeight":"normal","symbolSize":45,"offset":2}}}},
        {"data":{"name":"strips"},"transform":[{"filter":"datum.label == 'TY2'"}],"mark":{"type":"rect","color":"#d9d9d9"},
         "encoding":{"y":{"datum":113.4,"type":"quantitative","axis":{"values":[0,30,60,90],"labels":false,"ticks":false,"title":null,"grid":true,"gridColor":"#ffffff","domain":false}},"y2":{"datum":121.2}}},
        {"data":{"name":"strips"},"transform":[{"filter":"datum.label == 'TY2'"}],"mark":{"type":"text","fontSize":6.5,"fontWeight":"bold","color":"#222222"},
         "encoding":{"y":{"datum":117.3,"type":"quantitative","axis":{"values":[0,30,60,90],"labels":false,"ticks":false,"title":null,"grid":true,"gridColor":"#ffffff","domain":false}},"text":{"field":"label"}}}
       ]}
     ]}
   ]}
 ],"spacing":2,"resolve":{"scale":{"color":"independent"}}},
 {"spacing":4,
  "columns":1,
  "align":"none",
  "resolve":{"scale":{"color":"independent","shape":"independent","size":"independent"}},
  "concat":[
   {"width":430,"height":127,
    "title":{"text":"MAEL","fontSize":11,"offset":1},
    "view":{"fill":"#f6f6f6"},
    "layer":[
     {"data":{"name":"eline"},"transform":[{"filter":"datum.kind == 'site'"}],"mark":{"type":"rule","color":"#dcb8b0","strokeDash":[2,1.5],"strokeWidth":0.6},
      "encoding":{"x":{"field":"start","type":"quantitative","scale":{"domain":[0,43700],"nice":false,"zero":false},"axis":null},"x2":{"field":"end"},
       "y":{"field":"row","type":"nominal","scale":{"domain":["rna3047 TY2","rna3047 TY1","rna3047 TY0","rna3047","gap1","gap2","gene2544.t2 TY2","gene2544.t2 TY1","gene2544.t2 TY0","gene2544.t2","gap3","gap4","gene2544.t1 TY2","gene2544.t1 TY1","gene2544.t1 TY0","gene2544.t1"],"paddingInner":0,"paddingOuter":1.3},"axis":null}}},
     {"data":{"name":"eline"},"transform":[{"filter":"datum.kind == 'intron'"}],"mark":{"type":"rule","color":"#cfcfcf","strokeWidth":1.3},
      "encoding":{"x":{"field":"start","type":"quantitative","axis":null},"x2":{"field":"end"},"y":{"field":"row","type":"nominal","axis":null}}},
     {"data":{"name":"exon"},"mark":{"type":"bar","height":4.5},
      "encoding":{"x":{"field":"start","type":"quantitative","axis":null},"x2":{"field":"end"},"y":{"field":"row","type":"nominal","axis":null},
       "color":{"field":"type","type":"nominal","scale":{"domain":["CDS","UTR"],"range":["#3E63B3","#555555"]},"legend":null}}},
     {"data":{"name":"ebox"},"mark":{"type":"rect","fill":null,"stroke":"#F0A582","strokeDash":[3,2],"strokeWidth":0.8,"cornerRadius":2},
      "encoding":{"x":{"field":"start","type":"quantitative","axis":null},"x2":{"field":"end"}}},
     {"data":{"name":"sites"},"mark":{"type":"point","filled":true,"opacity":1},
      "encoding":{"x":{"field":"pos","type":"quantitative","axis":null},"y":{"field":"row","type":"nominal","axis":null},
       "color":{"field":"grp","type":"nominal","scale":{"domain":["TY2","TY1","TY0"],"range":["#E64B35","#4DBBD5","#00A087"]},"legend":{"title":null,"orient":"bottom","direction":"horizontal","symbolType":"circle","labelFontSize":8,"labelFontWeight":"normal","symbolSize":45,"offset":2}},
       "shape":{"field":"mod","type":"nominal","scale":{"domain":["m6A","m5C"],"range":["circle","diamond"]},"legend":{"title":null,"orient":"bottom","direction":"horizontal","labelFontSize":8,"labelFontWeight":"normal","symbolSize":45,"symbolFillColor":"#000000","symbolStrokeColor":"#000000","offset":2}},
       "size":{"field":"n","type":"quantitative","scale":{"domain":[1,3.5],"range":[12,70]},"legend":null}}},
     {"data":{"name":"elabel"},"mark":{"type":"text","align":"left","dy":-6,"fontSize":8,"color":"#222222"},
      "encoding":{"x":{"field":"pos","type":"quantitative","axis":null},"y":{"field":"row","type":"nominal","axis":null},"text":{"field":"row"}}},
     {"data":{"name":"letters"},"mark":{"type":"text","align":"left","baseline":"middle","dy":-9,"fontSize":13,"fontWeight":"bold","color":"#111111"},
      "encoding":{"x":{"datum":-1500,"type":"quantitative","axis":null},"y":{"datum":"rna3047 TY2","type":"nominal","axis":null},"text":{"field":"panel"}}}
    ],
    "resolve":{"scale":{"color":"independent","shape":"independent"}}
   },
   {"hconcat":[
     {"width":87,"height":66,
      "encoding":{"x":{"field":"Group","type":"nominal","title":null,"scale":{"domain":["TY0","TY1","TY2"],"paddingInner":0,"paddingOuter":0.3,"align":0.8},"axis":{"title":null,"labelAngle":0,"labelFontSize":6,"labelFontWeight":"bold","labelColor":"#222222","tickSize":2}}},
      "layer":[
       {"data":{"name":"psi"},"transform":[{"filter":"datum.Event == 'A3'"}],"mark":{"type":"bar","color":"#b3b3b3","width":{"band":0.42}},
        "encoding":{"y":{"datum":1,"type":"quantitative","scale":{"domain":[0,1.44],"nice":false},"axis":{"values":[0,0.5,1],"format":".1f","title":"Mean PSI of A3","titleFontSize":5.5,"labelFontSize":5,"tickSize":2}}}},
       {"data":{"name":"psi"},"transform":[{"filter":"datum.Event == 'A3'"}],"mark":{"type":"bar","width":{"band":0.42}},
        "encoding":{"y":{"field":"PSI","type":"quantitative","axis":{"values":[0,0.5,1],"format":".1f","title":"Mean PSI of A3","titleFontSize":5.5,"labelFontSize":5,"tickSize":2}},"y2":{"datum":0},"color":{"field":"Transcript","type":"nominal","scale":{"range":["#134E8C"]},"legend":{"title":null,"orient":"bottom","labelFontSize":6,"symbolSize":50,"offset":5}}}},
       {"data":{"name":"sig"},"transform":[{"filter":"datum.panel == 'M_A3'"}],"mark":{"type":"rule","color":"#444444","strokeWidth":0.5},
        "encoding":{"x":{"field":"g1","type":"nominal","title":null},"x2":{"field":"g2"},"y":{"field":"y","type":"quantitative","axis":{"values":[0,0.5,1],"format":".1f","title":"Mean PSI of A3","titleFontSize":5.5,"labelFontSize":5,"tickSize":2}}}},
       {"data":{"name":"sig"},"transform":[{"filter":"datum.panel == 'M_A3'"},{"fold":["g1","g2"],"as":["end","gx"]}],"mark":{"type":"tick","orient":"vertical","size":3,"yOffset":1.5,"thickness":0.5,"color":"#444444"},
        "encoding":{"x":{"field":"gx","type":"nominal","title":null},"y":{"field":"y","type":"quantitative","axis":{"values":[0,0.5,1],"format":".1f","title":"Mean PSI of A3","titleFontSize":5.5,"labelFontSize":5,"tickSize":2}}}},
       {"data":{"name":"sig"},"transform":[{"filter":"datum.panel == 'M_A3' && datum.span == 1"}],"mark":{"type":"text","baseline":"bottom","dy":0,"fontSize":5},
        "encoding":{"x":{"field":"mid","type":"nominal","bandPosition":1,"title":null},"y":{"field":"y","type":"quantitative","axis":{"values":[0,0.5,1],"format":".1f","title":"Mean PSI of A3","titleFontSize":5.5,"labelFontSize":5,"tickSize":2}},"text":{"field":"label"}}},
       {"data":{"name":"sig"},"transform":[{"filter":"datum.panel == 'M_A3' && datum.span == 2"}],"mark":{"type":"text","baseline":"bottom","dy":0,"fontSize":5},
        "encoding":{"x":{"field":"mid","type":"nominal","title":null},"y":{"field":"y","type":"quantitative","axis":{"values":[0,0.5,1],"format":".1f","title":"Mean PSI of A3","titleFontSize":5.5,"labelFontSize":5,"tickSize":2}},"text":{"field":"label"}}}
      ]},
     {"width":76,"height":62,
      "encoding":{"x":{"field":"Group","type":"nominal","title":null,"scale":{"domain":["TY0","TY1","TY2"],"paddingInner":0,"paddingOuter":0.2,"align":0.7},"axis":{"title":null,"labelAngle":0,"labelFontSize":6,"labelFontWeight":"bold","labelColor":"#222222","tickSize":2}}},
      "layer":[
       {"data":{"name":"psi"},"transform":[{"filter":"datum.Event == 'SE'"}],"mark":{"type":"bar","color":"#b3b3b3","width":{"band":0.42}},
        "encoding":{"y":{"datum":1,"type":"quantitative","scale":{"domain":[0,1.36],"nice":false},"axis":{"values":[0,0.5,1],"format":".1f","title":"Mean PSI of SE","titleFontSize":5.5,"labelFontSize":5,"tickSize":2}}}},
       {"data":{"name":"psi"},"transform":[{"filter":"datum.Event == 'SE'"}],"mark":{"type":"bar","width":{"band":0.42}},
        "encoding":{"y":{"field":"PSI","type":"quantitative","axis":{"values":[0,0.5,1],"format":".1f","title":"Mean PSI of SE","titleFontSize":5.5,"labelFontSize":5,"tickSize":2}},"y2":{"datum":0},"color":{"field":"Transcript","type":"nominal","scale":{"range":["#134E8C"]},"legend":{"title":null,"orient":"bottom","labelFontSize":6,"symbolSize":50,"offset":5}}}},
       {"data":{"name":"sig"},"transform":[{"filter":"datum.panel == 'M_SE'"}],"mark":{"type":"rule","color":"#444444","strokeWidth":0.5},
        "encoding":{"x":{"field":"g1","type":"nominal","title":null},"x2":{"field":"g2"},"y":{"field":"y","type":"quantitative","axis":{"values":[0,0.5,1],"format":".1f","title":"Mean PSI of SE","titleFontSize":5.5,"labelFontSize":5,"tickSize":2}}}},
       {"data":{"name":"sig"},"transform":[{"filter":"datum.panel == 'M_SE'"},{"fold":["g1","g2"],"as":["end","gx"]}],"mark":{"type":"tick","orient":"vertical","size":3,"yOffset":1.5,"thickness":0.5,"color":"#444444"},
        "encoding":{"x":{"field":"gx","type":"nominal","title":null},"y":{"field":"y","type":"quantitative","axis":{"values":[0,0.5,1],"format":".1f","title":"Mean PSI of SE","titleFontSize":5.5,"labelFontSize":5,"tickSize":2}}}},
       {"data":{"name":"sig"},"transform":[{"filter":"datum.panel == 'M_SE' && datum.span == 1"}],"mark":{"type":"text","baseline":"bottom","dy":0,"fontSize":5},
        "encoding":{"x":{"field":"mid","type":"nominal","bandPosition":1,"title":null},"y":{"field":"y","type":"quantitative","axis":{"values":[0,0.5,1],"format":".1f","title":"Mean PSI of SE","titleFontSize":5.5,"labelFontSize":5,"tickSize":2}},"text":{"field":"label"}}},
       {"data":{"name":"sig"},"transform":[{"filter":"datum.panel == 'M_SE' && datum.span == 2"}],"mark":{"type":"text","baseline":"bottom","dy":0,"fontSize":5},
        "encoding":{"x":{"field":"mid","type":"nominal","title":null},"y":{"field":"y","type":"quantitative","axis":{"values":[0,0.5,1],"format":".1f","title":"Mean PSI of SE","titleFontSize":5.5,"labelFontSize":5,"tickSize":2}},"text":{"field":"label"}}}
      ]},
     {"width":74,"height":62,
      "encoding":{"x":{"field":"Group","type":"nominal","title":null,"scale":{"domain":["TY0","TY1","TY2"],"paddingInner":0,"paddingOuter":0.2,"align":0.7},"axis":{"title":null,"labelAngle":0,"labelFontSize":6,"labelFontWeight":"bold","labelColor":"#222222","tickSize":2}}},
      "layer":[
       {"data":{"name":"psi"},"transform":[{"filter":"datum.Event == 'A5'"}],"mark":{"type":"bar","color":"#b3b3b3","width":{"band":0.42}},
        "encoding":{"y":{"datum":1,"type":"quantitative","scale":{"domain":[0,1.36],"nice":false},"axis":{"values":[0,0.5,1],"format":".1f","title":"Mean PSI of A5","titleFontSize":5.5,"labelFontSize":5,"tickSize":2}}}},
       {"data":{"name":"psi"},"transform":[{"filter":"datum.Event == 'A5'"}],"mark":{"type":"bar","width":{"band":0.42}},
        "encoding":{"y":{"field":"PSI","type":"quantitative","axis":{"values":[0,0.5,1],"format":".1f","title":"Mean PSI of A5","titleFontSize":5.5,"labelFontSize":5,"tickSize":2}},"y2":{"datum":0},"color":{"field":"Transcript","type":"nominal","scale":{"range":["#134E8C"]},"legend":{"title":null,"orient":"bottom","labelFontSize":6,"symbolSize":50,"offset":5}}}},
       {"data":{"name":"sig"},"transform":[{"filter":"datum.panel == 'M_A5'"}],"mark":{"type":"rule","color":"#444444","strokeWidth":0.5},
        "encoding":{"x":{"field":"g1","type":"nominal","title":null},"x2":{"field":"g2"},"y":{"field":"y","type":"quantitative","axis":{"values":[0,0.5,1],"format":".1f","title":"Mean PSI of A5","titleFontSize":5.5,"labelFontSize":5,"tickSize":2}}}},
       {"data":{"name":"sig"},"transform":[{"filter":"datum.panel == 'M_A5'"},{"fold":["g1","g2"],"as":["end","gx"]}],"mark":{"type":"tick","orient":"vertical","size":3,"yOffset":1.5,"thickness":0.5,"color":"#444444"},
        "encoding":{"x":{"field":"gx","type":"nominal","title":null},"y":{"field":"y","type":"quantitative","axis":{"values":[0,0.5,1],"format":".1f","title":"Mean PSI of A5","titleFontSize":5.5,"labelFontSize":5,"tickSize":2}}}},
       {"data":{"name":"sig"},"transform":[{"filter":"datum.panel == 'M_A5' && datum.span == 1"}],"mark":{"type":"text","baseline":"bottom","dy":0,"fontSize":5},
        "encoding":{"x":{"field":"mid","type":"nominal","bandPosition":1,"title":null},"y":{"field":"y","type":"quantitative","axis":{"values":[0,0.5,1],"format":".1f","title":"Mean PSI of A5","titleFontSize":5.5,"labelFontSize":5,"tickSize":2}},"text":{"field":"label"}}},
       {"data":{"name":"sig"},"transform":[{"filter":"datum.panel == 'M_A5' && datum.span == 2"}],"mark":{"type":"text","baseline":"bottom","dy":0,"fontSize":5},
        "encoding":{"x":{"field":"mid","type":"nominal","title":null},"y":{"field":"y","type":"quantitative","axis":{"values":[0,0.5,1],"format":".1f","title":"Mean PSI of A5","titleFontSize":5.5,"labelFontSize":5,"tickSize":2}},"text":{"field":"label"}}}
      ]}
    ],"spacing":58,"resolve":{"scale":{"color":"independent"}}},
   {"hconcat":[
     {"width":81,"height":73,
      "encoding":{"x":{"field":"Group","type":"nominal","title":null,"scale":{"domain":["TY0","TY1","TY2"],"paddingInner":0,"paddingOuter":0.52},"axis":{"title":"gene2544.t2","labels":false,"ticks":false,"titleFontSize":6,"titlePadding":3}}},
      "layer":[
       {"data":{"name":"m5cnum"},"transform":[{"filter":"datum.Event == 'A3'"}],"mark":{"type":"bar","stroke":"white","strokeWidth":0.5},
        "encoding":{"y":{"field":"Number","type":"quantitative","scale":{"domain":[0,3.02],"nice":false},"axis":{"values":[0,1,2,3],"title":"m5C Number of A3","titleFontSize":5.5,"labelFontSize":5,"tickSize":2}},"y2":{"datum":0},
         "color":{"field":"Group","type":"nominal","scale":{"domain":["TY0","TY1","TY2"],"range":["#E64B35","#4DBBD5","#00A087"]},"legend":{"title":null,"orient":"top-left","direction":"horizontal","labelFontSize":5,"labelFontWeight":"normal","symbolSize":50,"offset":4,"columnPadding":4}}}},
       {"data":{"name":"sig"},"transform":[{"filter":"datum.panel == 'N_A3'"}],"mark":{"type":"rule","color":"#444444","strokeWidth":0.5},
        "encoding":{"x":{"field":"g1","type":"nominal","title":null},"x2":{"field":"g2"},"y":{"field":"y","type":"quantitative","axis":{"values":[0,1,2,3],"title":"m5C Number of A3","titleFontSize":5.5,"labelFontSize":5,"tickSize":2}}}},
       {"data":{"name":"sig"},"transform":[{"filter":"datum.panel == 'N_A3'"},{"fold":["g1","g2"],"as":["end","gx"]}],"mark":{"type":"tick","orient":"vertical","size":3,"yOffset":1.5,"thickness":0.5,"color":"#444444"},
        "encoding":{"x":{"field":"gx","type":"nominal","title":null},"y":{"field":"y","type":"quantitative","axis":{"values":[0,1,2,3],"title":"m5C Number of A3","titleFontSize":5.5,"labelFontSize":5,"tickSize":2}}}},
       {"data":{"name":"sig"},"transform":[{"filter":"datum.panel == 'N_A3' && datum.span == 1"}],"mark":{"type":"text","baseline":"bottom","dy":0,"fontSize":5},
        "encoding":{"x":{"field":"mid","type":"nominal","bandPosition":1,"title":null},"y":{"field":"y","type":"quantitative","axis":{"values":[0,1,2,3],"title":"m5C Number of A3","titleFontSize":5.5,"labelFontSize":5,"tickSize":2}},"text":{"field":"label"}}},
       {"data":{"name":"sig"},"transform":[{"filter":"datum.panel == 'N_A3' && datum.span == 2"}],"mark":{"type":"text","baseline":"bottom","dy":0,"fontSize":5},
        "encoding":{"x":{"field":"mid","type":"nominal","title":null},"y":{"field":"y","type":"quantitative","axis":{"values":[0,1,2,3],"title":"m5C Number of A3","titleFontSize":5.5,"labelFontSize":5,"tickSize":2}},"text":{"field":"label"}}}
      ]},
     {"width":78,"height":74,
      "encoding":{"x":{"field":"Group","type":"nominal","title":null,"scale":{"domain":["TY0","TY1","TY2"],"paddingInner":0,"paddingOuter":0.45},"axis":{"title":"gene2544.t2","labels":false,"ticks":false,"titleFontSize":6,"titlePadding":3}}},
      "layer":[
       {"data":{"name":"m5cnum"},"transform":[{"filter":"datum.Event == 'SE'"}],"mark":{"type":"bar","stroke":"white","strokeWidth":0.5},
        "encoding":{"y":{"field":"Number","type":"quantitative","scale":{"domain":[0,12.6],"nice":false},"axis":{"values":[0,2.5,5,7.5,10,12.5],"format":".1f","title":"m5C Number of SE","titleFontSize":5.5,"labelFontSize":5,"tickSize":2}},"y2":{"datum":0},
         "color":{"field":"Group","type":"nominal","scale":{"domain":["TY0","TY1","TY2"],"range":["#E64B35","#4DBBD5","#00A087"]},"legend":{"title":null,"orient":"top-left","direction":"horizontal","labelFontSize":5,"labelFontWeight":"normal","symbolSize":50,"offset":4,"columnPadding":4}}}},
       {"data":{"name":"sig"},"transform":[{"filter":"datum.panel == 'N_SE'"}],"mark":{"type":"rule","color":"#444444","strokeWidth":0.5},
        "encoding":{"x":{"field":"g1","type":"nominal","title":null},"x2":{"field":"g2"},"y":{"field":"y","type":"quantitative","axis":{"values":[0,2.5,5,7.5,10,12.5],"format":".1f","title":"m5C Number of SE","titleFontSize":5.5,"labelFontSize":5,"tickSize":2}}}},
       {"data":{"name":"sig"},"transform":[{"filter":"datum.panel == 'N_SE'"},{"fold":["g1","g2"],"as":["end","gx"]}],"mark":{"type":"tick","orient":"vertical","size":3,"yOffset":1.5,"thickness":0.5,"color":"#444444"},
        "encoding":{"x":{"field":"gx","type":"nominal","title":null},"y":{"field":"y","type":"quantitative","axis":{"values":[0,2.5,5,7.5,10,12.5],"format":".1f","title":"m5C Number of SE","titleFontSize":5.5,"labelFontSize":5,"tickSize":2}}}},
       {"data":{"name":"sig"},"transform":[{"filter":"datum.panel == 'N_SE' && datum.span == 1"}],"mark":{"type":"text","baseline":"bottom","dy":0,"fontSize":5},
        "encoding":{"x":{"field":"mid","type":"nominal","bandPosition":1,"title":null},"y":{"field":"y","type":"quantitative","axis":{"values":[0,2.5,5,7.5,10,12.5],"format":".1f","title":"m5C Number of SE","titleFontSize":5.5,"labelFontSize":5,"tickSize":2}},"text":{"field":"label"}}},
       {"data":{"name":"sig"},"transform":[{"filter":"datum.panel == 'N_SE' && datum.span == 2"}],"mark":{"type":"text","baseline":"bottom","dy":0,"fontSize":5},
        "encoding":{"x":{"field":"mid","type":"nominal","title":null},"y":{"field":"y","type":"quantitative","axis":{"values":[0,2.5,5,7.5,10,12.5],"format":".1f","title":"m5C Number of SE","titleFontSize":5.5,"labelFontSize":5,"tickSize":2}},"text":{"field":"label"}}}
      ]},
     {"width":66,"height":75,
      "encoding":{"x":{"field":"Group","type":"nominal","title":null,"scale":{"domain":["TY0","TY1","TY2"],"paddingInner":0,"paddingOuter":0.05},"axis":{"title":"gene2544.t2","labels":false,"ticks":false,"titleFontSize":6,"titlePadding":3}}},
      "layer":[
       {"data":{"name":"m5cnum"},"transform":[{"filter":"datum.Event == 'A5'"}],"mark":{"type":"bar","stroke":"white","strokeWidth":0.5},
        "encoding":{"y":{"field":"Number","type":"quantitative","scale":{"domain":[0,4.8],"nice":false},"axis":{"values":[0,1,2,3,4],"title":"m5C Number of A5","titleFontSize":5.5,"labelFontSize":5,"tickSize":2}},"y2":{"datum":0},
         "color":{"field":"Group","type":"nominal","scale":{"domain":["TY0","TY1","TY2"],"range":["#E64B35","#4DBBD5","#00A087"]},"legend":{"title":null,"orient":"top-left","direction":"horizontal","labelFontSize":5,"labelFontWeight":"normal","symbolSize":50,"offset":4,"columnPadding":4}}}},
       {"data":{"name":"sig"},"transform":[{"filter":"datum.panel == 'N_A5'"}],"mark":{"type":"rule","color":"#444444","strokeWidth":0.5},
        "encoding":{"x":{"field":"g1","type":"nominal","title":null},"x2":{"field":"g2"},"y":{"field":"y","type":"quantitative","axis":{"values":[0,1,2,3,4],"title":"m5C Number of A5","titleFontSize":5.5,"labelFontSize":5,"tickSize":2}}}},
       {"data":{"name":"sig"},"transform":[{"filter":"datum.panel == 'N_A5'"},{"fold":["g1","g2"],"as":["end","gx"]}],"mark":{"type":"tick","orient":"vertical","size":3,"yOffset":1.5,"thickness":0.5,"color":"#444444"},
        "encoding":{"x":{"field":"gx","type":"nominal","title":null},"y":{"field":"y","type":"quantitative","axis":{"values":[0,1,2,3,4],"title":"m5C Number of A5","titleFontSize":5.5,"labelFontSize":5,"tickSize":2}}}},
       {"data":{"name":"sig"},"transform":[{"filter":"datum.panel == 'N_A5' && datum.span == 1"}],"mark":{"type":"text","baseline":"bottom","dy":0,"fontSize":5},
        "encoding":{"x":{"field":"mid","type":"nominal","bandPosition":1,"title":null},"y":{"field":"y","type":"quantitative","axis":{"values":[0,1,2,3,4],"title":"m5C Number of A5","titleFontSize":5.5,"labelFontSize":5,"tickSize":2}},"text":{"field":"label"}}},
       {"data":{"name":"sig"},"transform":[{"filter":"datum.panel == 'N_A5' && datum.span == 2"}],"mark":{"type":"text","baseline":"bottom","dy":0,"fontSize":5},
        "encoding":{"x":{"field":"mid","type":"nominal","title":null},"y":{"field":"y","type":"quantitative","axis":{"values":[0,1,2,3,4],"title":"m5C Number of A5","titleFontSize":5.5,"labelFontSize":5,"tickSize":2}},"text":{"field":"label"}}}
      ]}
    ],"spacing":52,"resolve":{"scale":{"color":"independent"}}}
  ]}
]
}
